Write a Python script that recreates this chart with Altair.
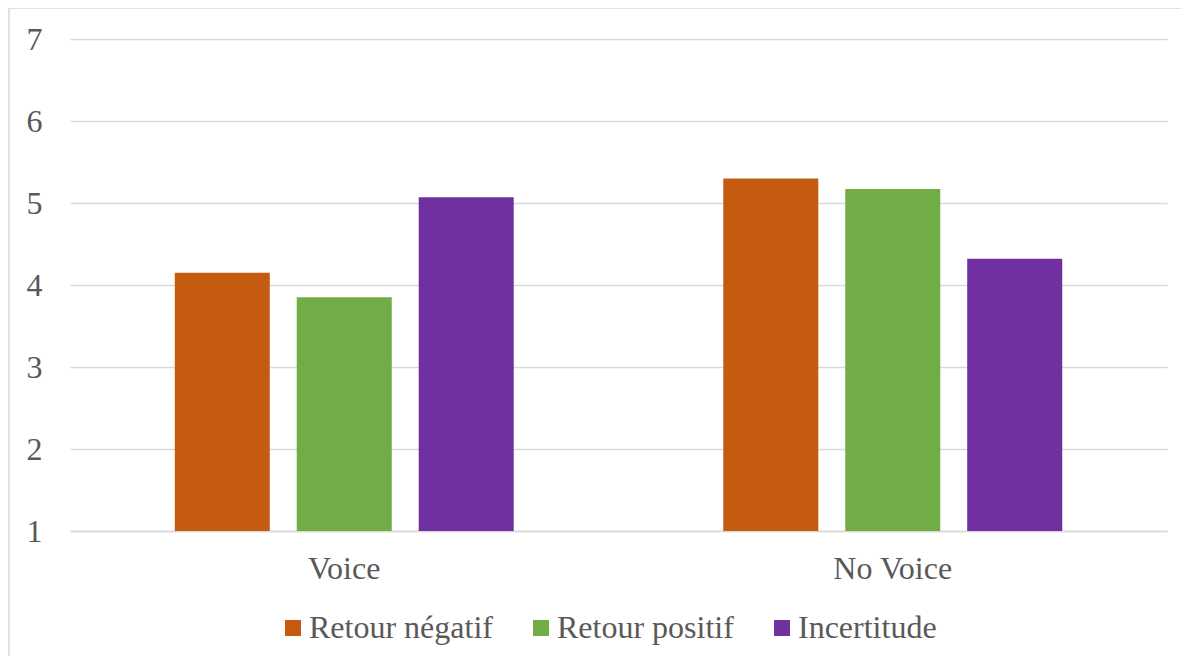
import altair as alt
import pandas as pd

groups = ["Voice", "No Voice"]
series = ["Retour négatif", "Retour positif", "Incertitude"]
colors = ["#C55A11", "#70AD47", "#7030A0"]
voice_values = [4.15, 3.85, 5.07]
no_voice_values = [5.30, 5.17, 4.32]

rows = []
for g, vals in zip(groups, [voice_values, no_voice_values]):
    for s, v in zip(series, vals):
        rows.append({"groupe": g, "serie": s, "valeur": v})
df = pd.DataFrame(rows)

W, H = 1097, 492
PL, PT, PR, PB = 62, 31, 14, 125
FONT = "Liberation Serif, Liberation Sans, sans-serif"
TXT = "#595959"
FS = 32

bars = alt.Chart(df).mark_bar().encode(
    x=alt.X("groupe:N", sort=groups, title=None,
            scale=alt.Scale(paddingInner=0, paddingOuter=0),
            axis=alt.Axis(labelAngle=0, ticks=False, domain=True, domainColor="#D9D9D9",
                          domainWidth=1.5, labelFontSize=FS, labelFont=FONT,
                          labelColor=TXT, labelPadding=22)),
    xOffset=alt.XOffset("serie:N", sort=series,
                        scale=alt.Scale(paddingInner=0.221, paddingOuter=0.859)),
    y=alt.Y("valeur:Q", title=None,
            scale=alt.Scale(domain=[1, 7], nice=False, zero=False),
            axis=alt.Axis(values=[1, 2, 3, 4, 5, 6, 7], ticks=False, domain=False,
                          grid=True, gridColor="#D9D9D9", gridWidth=1.5,
                          labelFontSize=FS, labelFont=FONT, labelColor=TXT,
                          labelPadding=28)),
    y2=alt.datum(1),
    color=alt.Color("serie:N", sort=series,
                    scale=alt.Scale(domain=series, range=colors),
                    legend=alt.Legend(title=None, orient="none", direction="horizontal",
                                      legendX=207, legendY=573, padding=0,
                                      symbolType="square", symbolSize=256,
                                      symbolStrokeWidth=0, symbolOpacity=1,
                                      labelFontSize=FS, labelFont=FONT,
                                      labelColor=TXT, labelOffset=0,
                                      columnPadding=32, labelLimit=400)),
)

border = alt.Chart(pd.DataFrame({"a": [0]})).mark_rect(
    fill=None, stroke="#D9D9D9", strokeWidth=1.5
).encode(
    x=alt.value(-PL + 1), x2=alt.value(W + PR + 50),
    y=alt.value(-PT), y2=alt.value(H + PB + 50),
)

chart = alt.layer(bars, border).properties(
    width=W, height=H,
    autosize=alt.AutoSizeParams(type="none"),
    padding={"left": PL, "top": PT, "right": PR, "bottom": PB},
    background="white",
).configure_view(stroke="transparent", strokeWidth=0)

chart.save("out.html", embed_options={"renderer": "svg", "actions": False})
